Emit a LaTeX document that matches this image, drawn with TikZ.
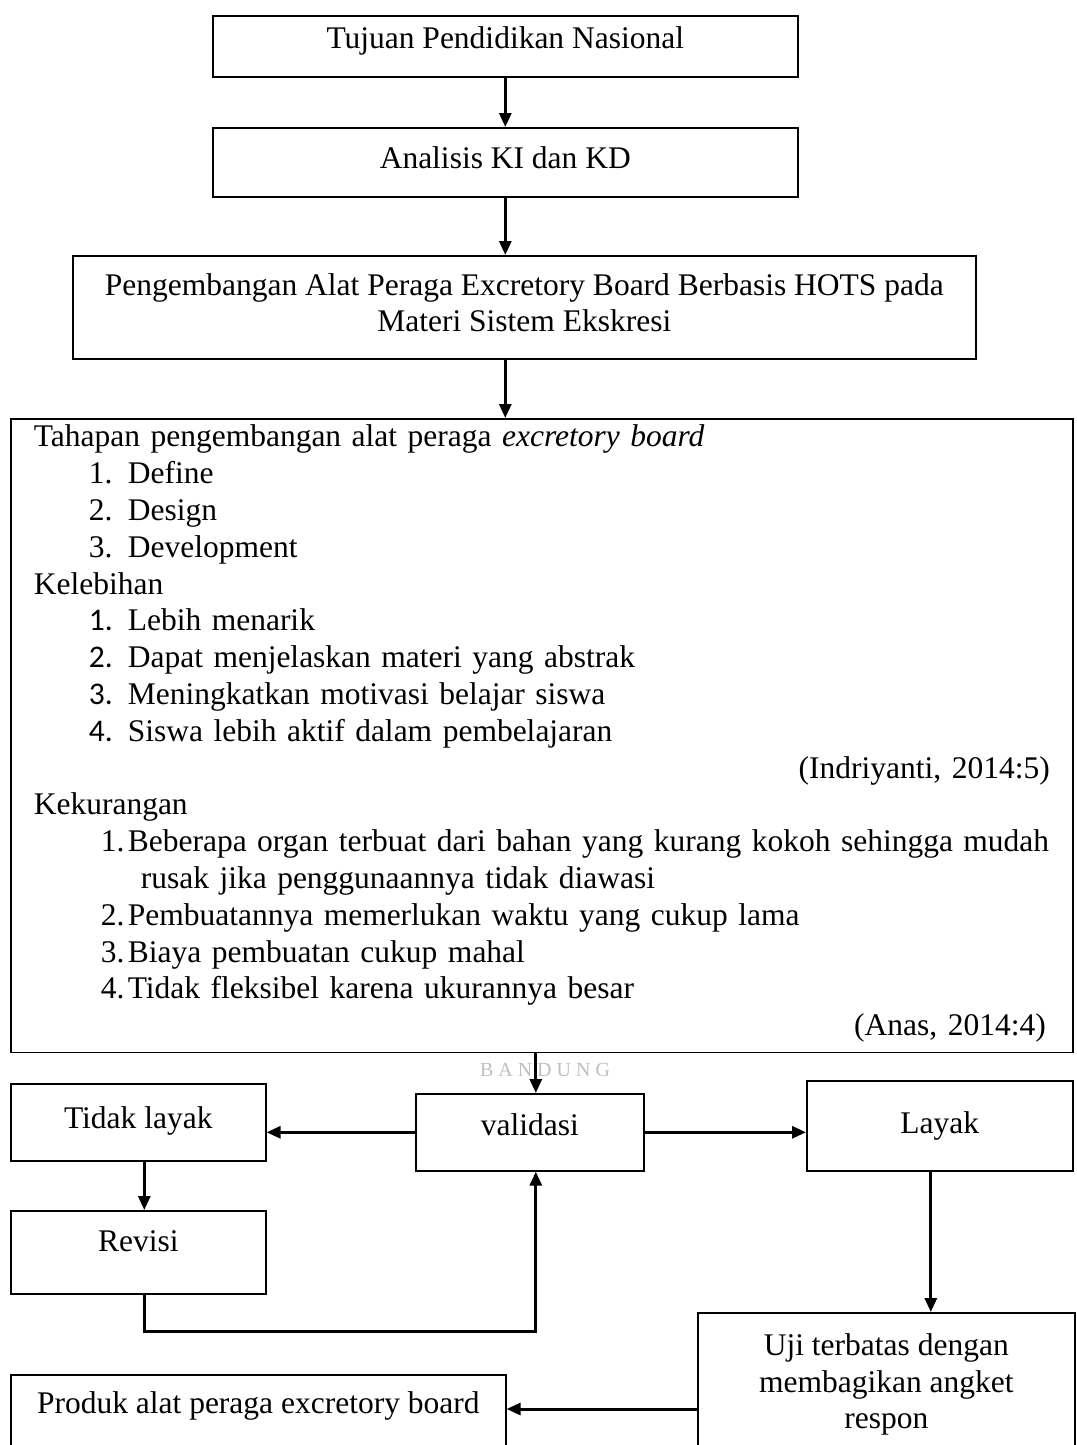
\documentclass[tikz,border=0pt]{standalone}
\usepackage{fontspec}
\setmainfont{Liberation Serif}
\newfontfamily\numfont{Carlito}
\usetikzlibrary{arrows.meta}

\newcommand{\numitem}[2]{\hspace*{55pt}\makebox[39pt][l]{#1}#2}
\newcommand{\numitemb}[2]{\hspace*{67pt}\makebox[27pt][l]{#1}#2}

\begin{document}
\begin{tikzpicture}[
    x=1pt, y=-1pt,
    font=\fontsize{31.5}{36.8}\selectfont,
    box/.style={rectangle, align=center, draw=black, line width=1.6pt, inner sep=0pt, anchor=north west},
    bigbox/.style={rectangle, align=left, draw=black, line width=1.6pt, inner xsep=23pt, inner ysep=0pt, anchor=north west},
    arr/.style={line width=3pt, -{Triangle[width=12pt,length=14pt]}},
    watermark/.style={text=black!25, font=\fontsize{20}{20}\selectfont},
]
    \useasboundingbox (0,0) rectangle (1076,1445);
    \clip (0,0) rectangle (1076,1445);

    \node(tujuan)[box, minimum width=585pt, text height=33pt, text depth=28pt] at (212, 15) {Tujuan Pendidikan Nasional};
    \node(analisis)[box, minimum width=585pt, text height=41pt, text depth=28pt] at (212, 127) {Analisis KI dan KD};
    \node(pengembangan)[box, minimum width=903pt, text height=76pt, text depth=27pt] at (72, 255) {Pengembangan Alat Peraga Excretory Board Berbasis HOTS pada\\ Materi Sistem Ekskresi};

    \node(tahapan)[bigbox, text width=1016pt] at (10, 418) {\rule{0pt}{28pt}Tahapan pengembangan alat peraga \textit{excretory board}\\
        \numitem{1.}{Define}\\
        \numitem{2.}{Design}\\
        \numitem{3.}{Development}\\
        Kelebihan\\
        \numitem{\numfont 1.}{Lebih menarik}\\
        \numitem{\numfont 2.}{Dapat menjelaskan materi yang abstrak}\\
        \numitem{\numfont 3.}{Meningkatkan motivasi belajar siswa}\\
        \numitem{\numfont 4.}{Siswa lebih aktif dalam pembelajaran}\\
        \hspace*{0pt plus 1filll}(Indriyanti, 2014:5)\hspace*{4pt}\\
        Kekurangan\\
        \numitemb{1.}{\makebox[918pt][s]{Beberapa organ terbuat dari bahan yang kurang kokoh sehingga mudah}}\\
        \hspace*{107pt}rusak jika penggunaannya tidak diawasi\\
        \numitemb{2.}{Pembuatannya memerlukan waktu yang cukup lama}\\
        \numitemb{3.}{Biaya pembuatan cukup mahal}\\
        \numitemb{4.}{Tidak fleksibel karena ukurannya besar}\\
        \hspace*{0pt plus 1filll}(Anas, 2014:4)\hspace*{4pt}\rule[-17pt]{0pt}{17pt}};

    \node(bandung)[watermark] at (545, 1070) {B A N D U N G};

    \node(tidak)[box, minimum width=255pt, text height=45pt, text depth=32pt] at (10, 1083) {Tidak layak};
    \node(validasi)[box, minimum width=228pt, text height=42pt, text depth=35pt] at (415, 1093) {validasi};
    \node(layak)[box, minimum width=266pt, text height=53pt, text depth=37pt] at (806, 1080) {Layak};
    \node(revisi)[box, minimum width=255pt, text height=41pt, text depth=42pt] at (10, 1210) {Revisi};
    \node(uji)[box, minimum width=377pt, text height=116pt, text depth=36pt] at (697, 1312) {Uji terbatas dengan\\ membagikan angket\\ respon};
    \node(produk)[box, minimum width=495pt, text height=39pt, text depth=60pt] at (10, 1374) {Produk alat peraga excretory board};
    \coordinate(produk_in) at (0, 1409);

    \draw[arr] (tujuan) -- (analisis);
    \draw[arr] (analisis.south) -- (analisis.south |- pengembangan.north);
    \draw[arr] (pengembangan.south -| tujuan.south) -- (tahapan.north -| tujuan.south);
    \draw[arr] ([xshift=6pt]validasi.north |- tahapan.south) -- ([xshift=6pt]validasi.north);
    \draw[arr] (validasi.west) -- (tidak.east |- validasi.west);
    \draw[arr] (validasi.east) -- (layak.west |- validasi.east);
    \draw[arr] ([xshift=6pt]tidak.south) -- ([xshift=6pt]tidak.south |- revisi.north);
    \draw[arr] ([xshift=6pt]revisi.south) -- ++(0, 37) -| ([xshift=6pt]validasi.south);
    \draw[arr] ([xshift=-9pt]layak.south) -- ([xshift=-9pt]layak.south |- uji.north);
    \draw[arr] (uji.west |- produk_in) -- (produk.east |- produk_in);
\end{tikzpicture}
\end{document}
